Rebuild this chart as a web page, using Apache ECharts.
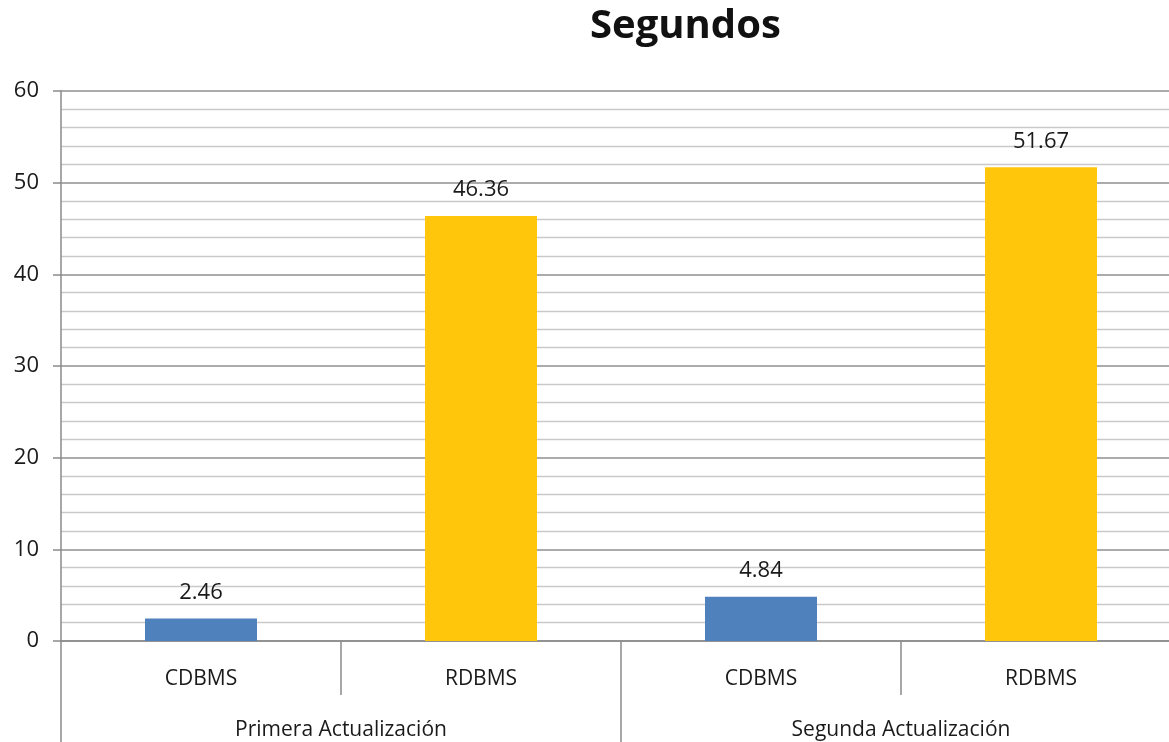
<!DOCTYPE html>
<html>
<head>
<meta charset="utf-8">
<script src="https://cdn.jsdelivr.net/npm/echarts@6/dist/echarts.min.js"></script>
<style>
html,body{margin:0;padding:0;background:#fff;}
#chart{width:1169px;height:742px;}
</style>
</head>
<body>
<div id="chart"></div>
<script>
const titleText = 'Segundos';
const categories = ['CDBMS', 'RDBMS', 'CDBMS', 'RDBMS'];
const groups = ['Primera Actualización', 'Segunda Actualización'];
const values = [2.46, 46.36, 4.84, 51.67];
const barColors = ['#4F81BD', '#FFC60B', '#4F81BD', '#FFC60B'];
const yTicks = { min: 0, max: 60, interval: 10 };

const font = '"Open Sans", "Noto Sans", sans-serif';
const chart = echarts.init(document.getElementById('chart'));
chart.setOption({
  animation: false,
  backgroundColor: '#ffffff',
  title: {
    text: titleText,
    left: 585,
    top: 2,
    textStyle: { fontFamily: font, fontWeight: 'bold', fontSize: 40, color: '#111' }
  },
  grid: { left: 61, width: 1120, top: 91, bottom: 101, containLabel: false, outerBoundsMode: 'none' },
  xAxis: [
    {
      type: 'category',
      data: categories,
      position: 'bottom',
      axisLine: { show: true, lineStyle: { color: '#8a8a8a', width: 1.5 } },
      axisTick: { show: true, length: 54, lineStyle: { color: '#8a8a8a', width: 1.5 } },
      axisLabel: { margin: 28, fontFamily: font, fontSize: 21, color: '#1a1a1a' },
      splitLine: { show: false }
    },
    {
      type: 'category',
      data: groups,
      position: 'bottom',
      axisLine: { show: false },
      axisTick: { show: true, length: 101, lineStyle: { color: '#8a8a8a', width: 1.5 } },
      axisLabel: { margin: 79, fontFamily: font, fontSize: 21, color: '#1a1a1a' },
      splitLine: { show: false }
    }
  ],
  yAxis: {
    type: 'value',
    min: yTicks.min,
    max: yTicks.max,
    interval: yTicks.interval,
    axisLine: { show: true, lineStyle: { color: '#8a8a8a', width: 1.5 } },
    axisTick: { show: true, length: 8, lineStyle: { color: '#8a8a8a', width: 1.5 } },
    axisLabel: { margin: 22, fontFamily: font, fontSize: 22, color: '#1a1a1a' },
    splitLine: { show: true, lineStyle: { color: '#8f8f8f', width: 1.5 } },
    minorTick: { show: false, splitNumber: 5 },
    minorSplitLine: { show: true, lineStyle: { color: '#c9c9c9', width: 1.3 } }
  },
  series: [
    {
      type: 'bar',
      xAxisIndex: 0,
      barWidth: '40%',
      data: values.map((v, i) => ({ value: v, itemStyle: { color: barColors[i] } })),
      label: {
        show: true,
        position: 'top',
        distance: 15,
        fontFamily: font,
        fontSize: 22,
        color: '#1a1a1a',
        formatter: p => p.value.toFixed(2)
      }
    }
  ]
});
</script>
</body>
</html>
